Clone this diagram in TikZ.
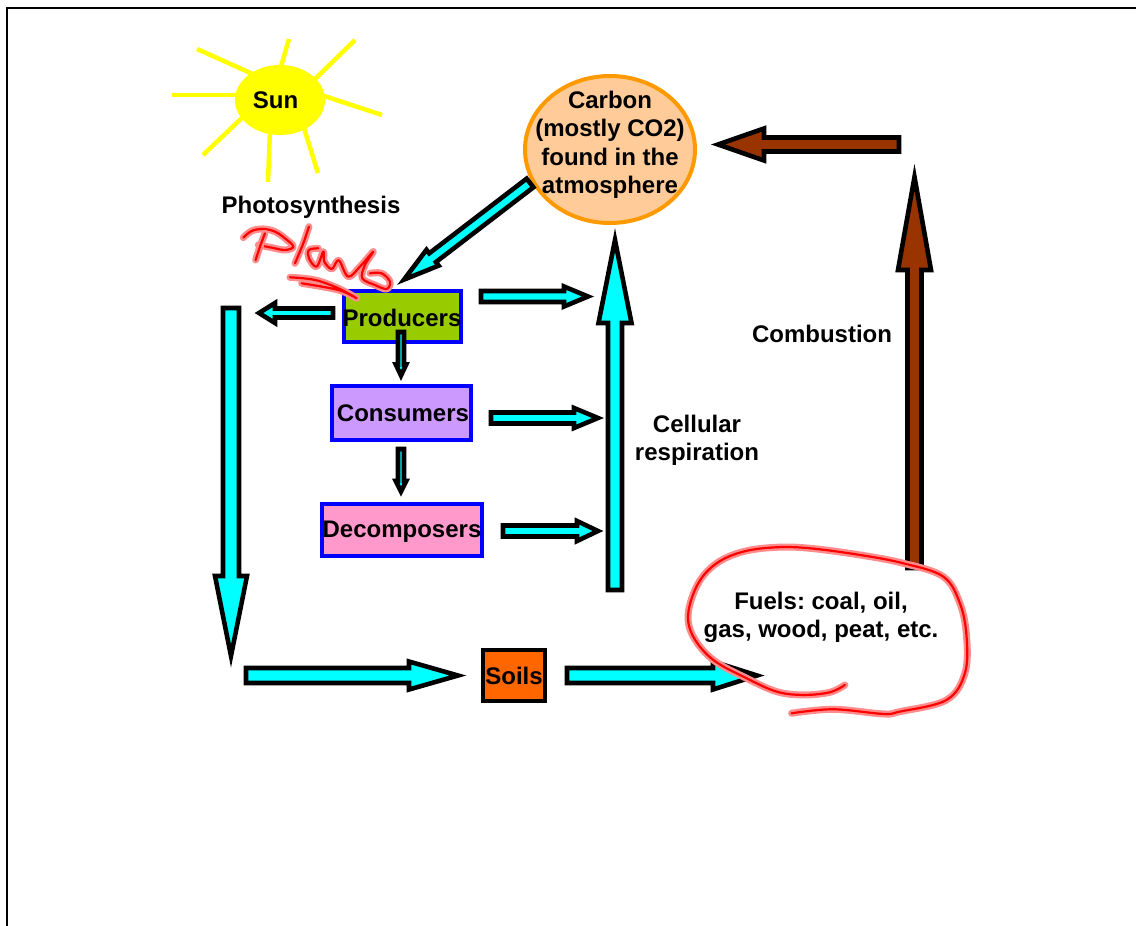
\documentclass[tikz,border=0pt]{standalone}
\usepackage{fontspec}
\usepackage{xcolor}
\usetikzlibrary{calc, shapes.geometric}
\setmainfont{Liberation Sans}
\definecolor{cyanfill}{HTML}{00FFFF}
\definecolor{brownfill}{HTML}{993300}
\definecolor{sunyellow}{HTML}{FFFF00}
\definecolor{carbonfill}{HTML}{FFCC99}
\definecolor{carbonline}{HTML}{FF9900}
\definecolor{prodfill}{HTML}{99CC00}
\definecolor{consfill}{HTML}{CC99FF}
\definecolor{decofill}{HTML}{FF99CC}
\definecolor{soilfill}{HTML}{FF6600}
\tikzset{
  every node/.style={font=\fontsize{24}{28.5}\selectfont\bfseries\frenchspacing, align=center, inner sep=0pt},
  levelbox/.style={draw=blue, line width=4pt, anchor=center},
  blockline/.style={draw=black, line width=4.6pt, line join=miter, miter limit=20},
  ray/.style={draw=sunyellow, line width=4.5pt},
  scribble/.style={draw=red, line width=2.2pt, line cap=round, line join=round,
    preaction={draw=red!45, line width=7pt, line cap=round, line join=round}}
}
% from, to, half shaft, head length, half head, fill
\newcommand{\blockarrow}[6]{
  \coordinate (headbase) at ($(#2)!#4pt!(#1)$);
  \draw[blockline, fill=#6]
    ($(#1)!#3pt!-90:(#2)$) -- ($(headbase)!#3pt!-90:(#2)$) -- ($(headbase)!#5pt!-90:(#2)$)
    -- (#2) -- ($(headbase)!#5pt!90:(#2)$) -- ($(headbase)!#3pt!90:(#2)$)
    -- ($(#1)!#3pt!90:(#2)$) -- cycle;
}
\begin{document}
\begin{tikzpicture}[x=1pt,y=-1pt]
  \useasboundingbox (0,0) rectangle (1136,926);

  % Frame
  \draw[line width=2.4pt] (7,926) -- (7,8) -- (1136,8);

  % Sun
  \foreach \xa/\ya/\xb/\yb in {197/49/255/75, 289/39/280/70, 355/40/312/82, 382/115/318/94,
      318/173/303/125, 268/182/270/130, 203/155/245/115, 172/95/240/95} {
    \draw[ray] (\xa,\ya) -- (\xb,\yb);
  }
  \node[fill=sunyellow, ellipse, minimum width=90pt, minimum height=70pt] (sun) at (280,100) {};
  \node at (275.5,100) (sunlabel) {Sun};

  % Labels
  \node (photo) at (311,207) {Photosynthesis};
  \node (combustion) at (822,334) {Combustion};
  \node (respiration) at (697,440.5) {Cellular\\respiration};
  \node (fuels) at (821,617.5) {Fuels: coal, oil,\\gas, wood, peat, etc.};

  % Carbon
  \node[draw=carbonline, line width=4pt, fill=carbonfill, ellipse, minimum width=170pt, minimum height=147pt] (carbon) at (610,149.5) {};
  \node (carbonlabel) at (610,145) {Carbon\\(mostly CO2)\\found in the\\atmosphere};

  % Boxes
  \node[levelbox, fill=prodfill, minimum width=117pt, minimum height=51pt] (producers) at (402.5,316.5) {};
  \node[levelbox, fill=consfill, minimum width=138.5pt, minimum height=54pt] (consumers) at (401.3,413) {};
  \node[levelbox, fill=decofill, minimum width=160pt, minimum height=52.5pt] (decomposers) at (402,530) {};
  \node[levelbox, draw=black, fill=soilfill, minimum width=62pt, minimum height=51pt] (soils) at (514,675.5) {};

  % Arrows
  \coordinate (c-tail) at (530,183);  \coordinate (c-tip) at (404,279.6);
  \coordinate (p-left) at (333,313);  \coordinate (p-lefttip) at (259,313);
  \coordinate (p-right) at (481,296.5);  \coordinate (p-righttip) at (588,296.5);
  \coordinate (p-down) at (401,332);  \coordinate (p-downtip) at (401,375.5);
  \coordinate (c-down) at (401,449);  \coordinate (c-downtip) at (401,491.5);
  \coordinate (c-right) at (491,418);  \coordinate (c-righttip) at (598,418);
  \coordinate (d-right) at (503,531);  \coordinate (d-righttip) at (598,531);
  \coordinate (resp-tail) at (615,590);  \coordinate (resp-tip) at (615,240);
  \coordinate (left-tail) at (231,308);  \coordinate (left-tip) at (231,656);
  \coordinate (bot-tail) at (246,675.5);  \coordinate (bot-tip) at (458,675.5);
  \coordinate (soil-tail) at (567,675.5);  \coordinate (soil-tip) at (757,675.5);
  \coordinate (burn-tail) at (914.5,568);  \coordinate (burn-tip) at (914.5,177);
  \coordinate (top-tail) at (899,144.5);  \coordinate (top-tip) at (718,144.5);

  \foreach \from/\to/\shaft/\len/\head in {c-tail/c-tip/5.5/36/10, p-left/p-lefttip/4.5/16/10,
      p-right/p-righttip/5.5/24/10, c-right/c-righttip/5.5/24/10, d-right/d-righttip/5.5/21/10,
      p-down/p-downtip/3/11/5.2, c-down/c-downtip/3/10.5/5.2,
      resp-tail/resp-tip/7/83/16.5, left-tail/left-tip/8/80/16,
      bot-tail/bot-tip/7.5/49/14, soil-tail/soil-tip/7.5/44/14} {
    \blockarrow{\from}{\to}{\shaft}{\len}{\head}{cyanfill}
  }
  \blockarrow{burn-tail}{burn-tip}{7}{93}{16.5}{brownfill}
  \blockarrow{top-tail}{top-tip}{7}{46}{16}{brownfill}

  % Box labels
  \node (prodlabel) at (402,317.5) {Producers};
  \node (conslabel) at (403,413) {Consumers};
  \node (decolabel) at (402,531.5) {Decomposers};
  \node (soilslabel) at (514,676) {Soils};

  % Pen marks
  \begin{scope}[x=.3333pt,y=-.3333pt,shift={(705,645)}]
    \draw[scribble] plot[smooth, tension=.6] coordinates {(25,68) (50,48) (85,42) (120,50) (150,70) (175,95) (150,105) (110,98) (70,90)};
    \draw[scribble] plot[smooth, tension=.6] coordinates {(90,55) (75,95) (62,135)};
    \draw[scribble] plot[smooth, tension=.6] coordinates {(222,35) (205,85) (180,145)};
    \draw[scribble] plot[smooth, tension=.6] coordinates {(250,100) (222,105) (222,130) (245,155) (265,110) (268,140) (290,162) (305,140) (315,140) (340,185) (375,155) (415,110) (390,150) (382,190) (420,210) (455,222) (465,200) (440,175) (405,175)};
    \draw[scribble] plot[smooth, tension=.6] coordinates {(165,187) (240,195) (310,220) (365,250) (310,225) (200,205)};
  \end{scope}
  \begin{scope}[x=.3333pt,y=-.3333pt,shift={(1980,1590)}]
    \draw[scribble] plot[smooth, tension=.6] coordinates {(555,465) (510,487) (430,495) (350,485) (260,445) (160,390) (100,320) (85,250) (115,160) (170,100) (250,65) (350,52) (450,55) (600,75) (730,100) (850,140) (900,220) (920,320) (915,430) (860,510) (720,545) (670,552) (520,538) (395,550)};
  \end{scope}
\end{tikzpicture}
\end{document}
